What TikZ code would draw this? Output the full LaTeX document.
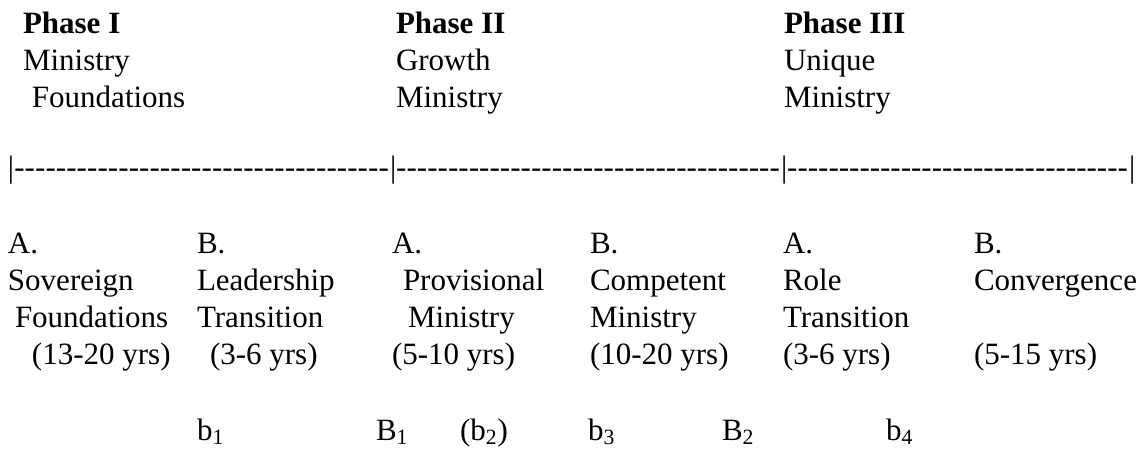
\documentclass[tikz,border=0pt]{standalone}
\usepackage{fontspec}
\setmainfont{Liberation Serif}
\begin{document}
\begin{tikzpicture}[x=0.5pt,y=-0.5pt,
  txt/.style={anchor=base west, inner sep=0pt, outer sep=0pt, font=\fontsize{15.5}{18.5}\selectfont},
  head/.style={txt, font=\fontsize{15.5}{18.5}\selectfont\bfseries}]
\useasboundingbox (0,0) rectangle (1139,450);
% phase headings
\node[head] (ph1) at (23,33) {Phase I};
\node[txt] (ph1a) at (23,70) {Ministry};
\node[txt] (ph1b) at (32,107) {Foundations};
\node[head] (ph2) at (396,33) {Phase II};
\node[txt] (ph2a) at (396,70) {Growth};
\node[txt] (ph2b) at (396,107) {Ministry};
\node[head] (ph3) at (784,33) {Phase III};
\node[txt] (ph3a) at (784,70) {Unique};
\node[txt] (ph3b) at (784,107) {Ministry};
% time line of bars and hyphens
\node[txt] (seg1) at (8,177) {|\makebox[187.4pt]{\xleaders\hbox{-}\hfill}};
\node[txt] (seg2) at (390,177) {|\makebox[191.9pt]{\xleaders\hbox{-}\hfill}};
\node[txt] (seg3) at (781,177) {|\makebox[170.4pt]{\xleaders\hbox{-}\hfill}};
\node[txt] (bar4) at (1129,177) {|};
% stages
\node[txt] (c1a) at (8,253) {A.};
\node[txt] (c1b) at (8,290) {Sovereign};
\node[txt] (c1c) at (15,327) {Foundations};
\node[txt] (c1d) at (32,364) {(13-20 yrs)};
\node[txt] (c2a) at (197,253) {B.};
\node[txt] (c2b) at (197,290) {Leadership};
\node[txt] (c2c) at (197,327) {Transition};
\node[txt] (c2d) at (210,364) {(3-6 yrs)};
\node[txt] (c3a) at (392,253) {A.};
\node[txt] (c3b) at (403,290) {Provisional};
\node[txt] (c3c) at (408,327) {Ministry};
\node[txt] (c3d) at (392,364) {(5-10 yrs)};
\node[txt] (c4a) at (590,253) {B.};
\node[txt] (c4b) at (590,290) {Competent};
\node[txt] (c4c) at (590,327) {Ministry};
\node[txt] (c4d) at (590,364) {(10-20 yrs)};
\node[txt] (c5a) at (783,253) {A.};
\node[txt] (c5b) at (783,290) {Role};
\node[txt] (c5c) at (783,327) {Transition};
\node[txt] (c5d) at (783,364) {(3-6 yrs)};
\node[txt] (c6a) at (974,253) {B.};
\node[txt] (c6b) at (974,290) {Convergence};
\node[txt] (c6d) at (974,364) {(5-15 yrs)};
% bottom markers
\node[txt] (m1) at (197,440) {b\textsubscript{1}};
\node[txt] (m2) at (376,440) {B\textsubscript{1}};
\node[txt] (m3) at (460,440) {(b\textsubscript{2})};
\node[txt] (m4) at (588,440) {b\textsubscript{3}};
\node[txt] (m5) at (722,440) {B\textsubscript{2}};
\node[txt] (m6) at (886,440) {b\textsubscript{4}};
\end{tikzpicture}
\end{document}
